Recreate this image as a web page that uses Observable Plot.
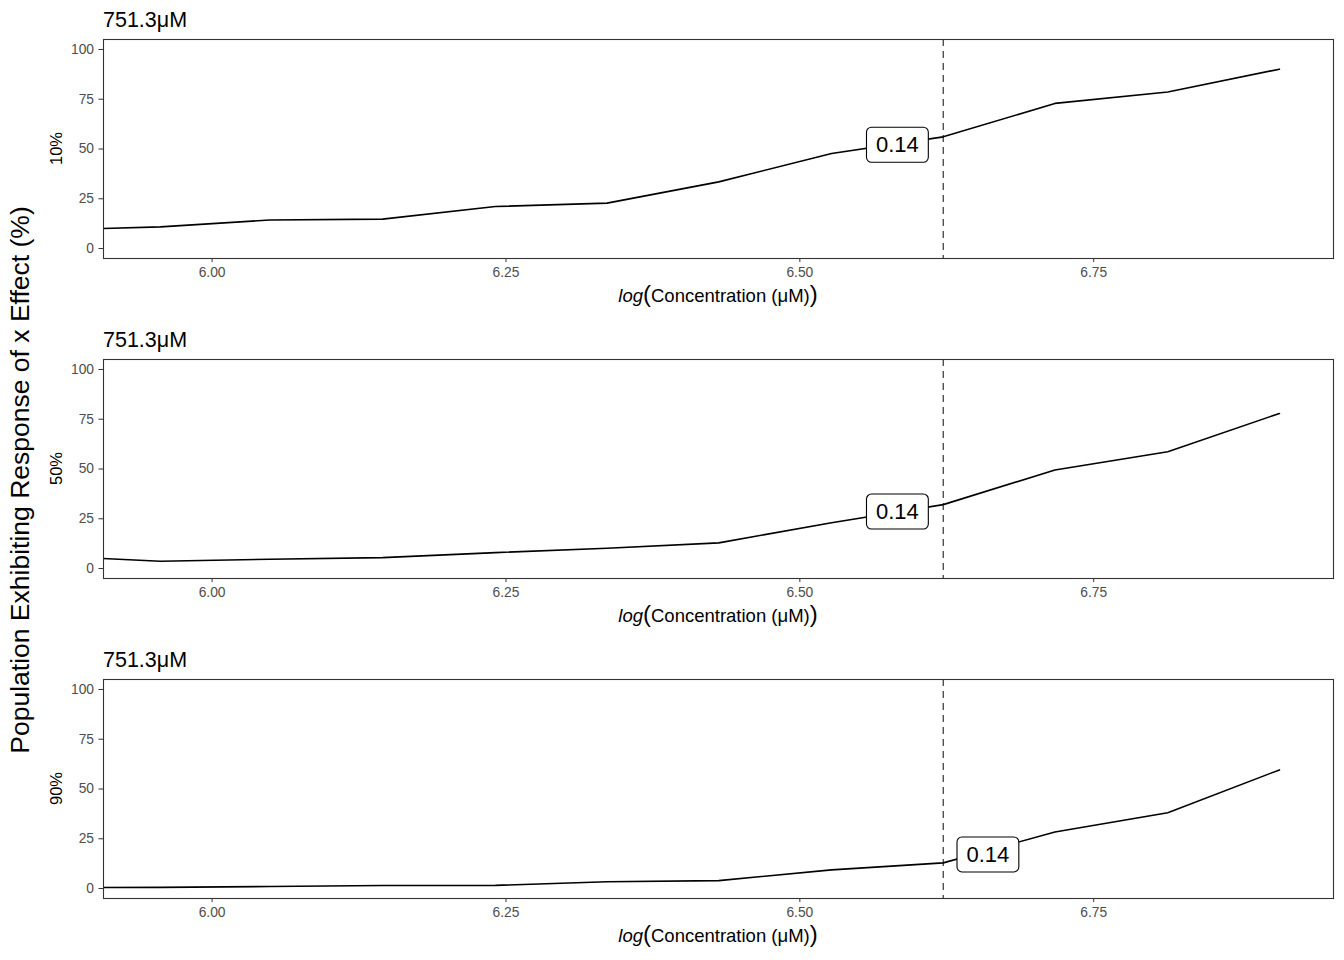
<!DOCTYPE html>
<html>
<head>
<meta charset="utf-8">
<script src="https://cdn.jsdelivr.net/npm/d3@7"></script>
<script src="https://cdn.jsdelivr.net/npm/@observablehq/plot@0.6"></script>
<style>
  body { margin: 0; background: #fff; font-family: "Liberation Sans", Arial, Helvetica, sans-serif; }
  #wrap { position: relative; width: 1344px; height: 960px; overflow: hidden; }
  #ylab { position: absolute; left: 20px; top: 480px; transform: translate(-50%, -50%) rotate(-90deg);
          white-space: nowrap; font-size: 26.5px; color: #000; line-height: 1.149; }
  #panels svg { display: block; }
</style>
</head>
<body>
<div id="wrap">
  <div id="panels"></div>
  <div id="ylab">Population Exhibiting Response of x Effect (%)</div>
</div>
<script>
// ---- data ----
const logConc = [5.860, 5.956, 6.049, 6.145, 6.241, 6.336, 6.431, 6.527, 6.622, 6.717, 6.813, 6.908];
const pct10 = [9.2, 10.9, 14.3, 14.8, 21.1, 22.8, 33.5, 47.7, 56.1, 72.9, 78.6, 90.1];
const pct50 = [6.3, 3.7, 4.7, 5.5, 8.0, 10.2, 12.9, 23.0, 32.1, 49.5, 58.7, 77.9];
const pct90 = [0.4, 0.6, 1.0, 1.5, 1.6, 3.4, 4.0, 9.4, 12.9, 28.4, 38.1, 59.6];
const seriesList = [pct10, pct50, pct90];
const panelNames = ["10%", "50%", "90%"];
const panelTitle = "751.3\u03bcM";
const markerLog = 6.622;           // ln(751.3)
const labelText = "0.14";
const labelX = [6.583, 6.583, 6.660];
const labelY = [51.9, 28.4, 16.9];
const xTicks = [6.00, 6.25, 6.50, 6.75];
const yTicks = [0, 25, 50, 75, 100];
const xDomain = [5.9076, 6.954];
const yDomain = [-5, 105];

const FONT = '"Liberation Sans", Arial, Helvetica, sans-serif';
const host = document.getElementById("panels");

seriesList.forEach((series, i) => {
  const data = logConc.map((x, k) => ({x, y: series[k]}));
  const lab = [{x: labelX[i], y: labelY[i], t: labelText}];
  const svg = Plot.plot({
    width: 1344,
    height: 320,
    marginTop: 39,
    marginBottom: 62,
    marginLeft: 103,
    marginRight: 11,
    style: {fontFamily: FONT, fontSize: "13.8px", background: "#fff", color: "#000"},
    x: {domain: xDomain},
    y: {domain: yDomain},
    marks: [
      Plot.ruleX([markerLog], {stroke: "#333", strokeWidth: 1.2, strokeDasharray: "7,5"}),
      Plot.line(data, {x: "x", y: "y", stroke: "#000", strokeWidth: 1.6, clip: true}),
      Plot.frame({stroke: "#333", strokeWidth: 1.1}),
      Plot.axisX({ticks: xTicks, tickFormat: d3.format(".2f"), tickSize: 4, tickPadding: 4.5,
                  fontSize: 13.8, stroke: "#333", fill: "#4d4d4d", label: null}),
      Plot.axisY({ticks: yTicks, tickSize: 4.5, tickPadding: 5, fontSize: 13.8,
                  stroke: "#333", fill: "#4d4d4d", label: null}),
      Plot.text(lab, {x: "x", y: "y", text: "t", fontSize: 22, fill: "#000"})
    ]
  });
  host.appendChild(svg);

  const s = d3.select(svg);
  // label boxes behind value labels
  s.selectAll('g[aria-label="text"] text').each(function () {
    const b = this.getBBox();
    const cy = b.y + b.height / 2;
    const rect = document.createElementNS("http://www.w3.org/2000/svg", "rect");
    rect.setAttribute("x", b.x - 9.5);
    rect.setAttribute("y", cy - 17.5);
    rect.setAttribute("width", b.width + 19);
    rect.setAttribute("height", 35);
    rect.setAttribute("rx", 5);
    rect.setAttribute("fill", "#fff");
    rect.setAttribute("stroke", "#000");
    rect.setAttribute("stroke-width", 1.1);
    const tr = this.getAttribute("transform");
    if (tr) rect.setAttribute("transform", tr);
    this.parentNode.insertBefore(rect, this);
  });

  // panel title
  s.append("text").attr("x", 103).attr("y", 26.5).attr("text-anchor", "start")
    .attr("font-size", 21.5).attr("fill", "#000").attr("font-family", FONT)
    .text(panelTitle);

  // panel y title
  s.append("text").attr("transform", "translate(62,148.5) rotate(-90)")
    .attr("text-anchor", "middle").attr("font-size", 16.5).attr("fill", "#000").attr("font-family", FONT)
    .text(panelNames[i]);

  // x title: log(Concentration (μM))
  const xt = s.append("text").attr("x", 718).attr("y", 302).attr("text-anchor", "middle")
    .attr("font-size", 18.5).attr("fill", "#000").attr("font-family", FONT);
  xt.append("tspan").attr("font-style", "italic").text("log");
  xt.append("tspan").attr("font-size", 24).text("(");
  xt.append("tspan").text("Concentration (\u03bcM)");
  xt.append("tspan").attr("font-size", 24).text(")");
});
</script>
</body>
</html>
